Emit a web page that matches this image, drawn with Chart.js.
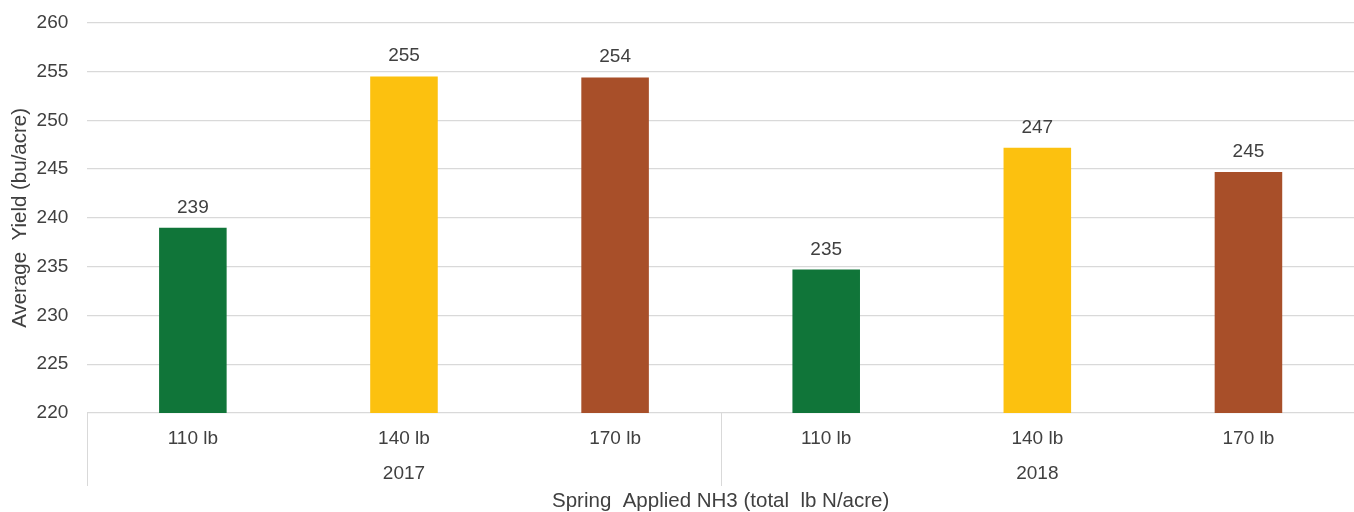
<!DOCTYPE html>
<html>
<head>
<meta charset="utf-8">
<script src="https://cdn.jsdelivr.net/npm/chart.js@4/dist/chart.umd.min.js"></script>
<style>
  html, body { margin: 0; padding: 0; background: #fff; }
  #chart { display: block; }
</style>
</head>
<body>
<canvas id="chart" width="1354" height="512"></canvas>
<script>
// data
const years = ['2017', '2018'];
const rates = ['110 lb', '140 lb', '170 lb'];
const yields = [239.0, 254.5, 254.4, 234.7, 247.2, 244.7];
const barColors = ['#107539', '#FCC10F', '#A84F29'];
const yTicks = [220, 225, 230, 235, 240, 245, 250, 255, 260];

// two-row labels: rate on top, year under the middle bar of each group
const labels = [];
years.forEach(year => {
    rates.forEach((rate, i) => {
        labels.push([rate, i === 1 ? year : '']);
    });
});

const textColor = '#404040';
const font = 'Liberation Sans, Arial, Helvetica, sans-serif';

// value labels over the bars
const barValues = {
    id: 'barValues',
    afterDatasetsDraw(chart) {
        const ctx = chart.ctx;
        const meta = chart.getDatasetMeta(0);
        ctx.save();
        ctx.font = '19px ' + font;
        ctx.fillStyle = textColor;
        ctx.textAlign = 'center';
        ctx.textBaseline = 'alphabetic';
        meta.data.forEach((bar, i) => {
            ctx.fillText(Math.round(yields[i]), bar.x, bar.y - 15);
        });
        ctx.restore();
    }
};

// vertical lines between year groups under the axis
const groupLines = {
    id: 'groupLines',
    afterDraw(chart) {
        const ctx = chart.ctx;
        const x = chart.scales.x;
        const half = (x.getPixelForValue(1) - x.getPixelForValue(0)) / 2;
        const top = chart.chartArea.bottom;
        ctx.save();
        ctx.strokeStyle = '#d9d9d9';
        ctx.lineWidth = 1;
        years.forEach((y, g) => {
            const px = Math.round(x.getPixelForValue(g * rates.length) - half) + 0.5;
            ctx.beginPath();
            ctx.moveTo(px, top);
            ctx.lineTo(px, top + 73);
            ctx.stroke();
        });
        ctx.restore();
    }
};

new Chart(document.getElementById('chart').getContext('2d'), {
    type: 'bar',
    data: {
        labels: labels,
        datasets: [{
            data: yields,
            backgroundColor: yields.map((v, i) => barColors[i % rates.length]),
            categoryPercentage: 1,
            barPercentage: 0.32
        }]
    },
    options: {
        responsive: false,
        animation: false,
        layout: { padding: { top: 0, right: 0, bottom: 0, left: 8 } },
        plugins: {
            legend: { display: false },
            tooltip: { enabled: false }
        },
        scales: {
            x: {
                grid: { display: false },
                border: { display: false },
                ticks: {
                    color: textColor,
                    font: { family: font, size: 19, lineHeight: 1.842 },
                    padding: 0.5,
                    maxRotation: 0
                },
                title: {
                    display: true,
                    text: 'Spring  Applied NH3 (total  lb N/acre)',
                    color: textColor,
                    font: { family: font, size: 20.5, lineHeight: 1 },
                    padding: { top: -0.5, bottom: 0 }
                }
            },
            y: {
                min: 220,
                max: 260,
                afterBuildTicks(scale) {
                    scale.ticks = yTicks.map(v => ({ value: v }));
                },
                grid: { color: '#d9d9d9', lineWidth: 1.3, drawTicks: false },
                border: { display: false },
                ticks: {
                    color: textColor,
                    font: { family: font, size: 19, lineHeight: 0.4 },
                    padding: 19
                },
                title: {
                    display: true,
                    text: 'Average  Yield (bu/acre)',
                    color: textColor,
                    font: { family: font, size: 20.5 },
                    padding: { top: 0, bottom: -15 }
                }
            }
        }
    },
    plugins: [barValues, groupLines]
});
</script>
</body>
</html>
